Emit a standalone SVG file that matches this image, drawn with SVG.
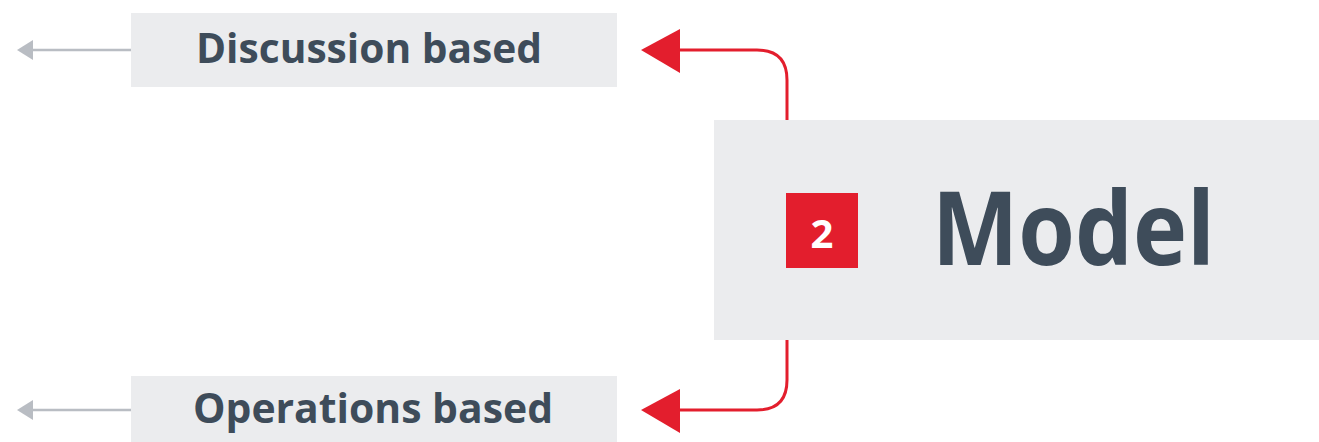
<svg xmlns="http://www.w3.org/2000/svg" width="1319" height="442" viewBox="0 0 1319 442">
<style>
.box{fill:#ebecee}
.lbl{font-family:"Open Sans","Liberation Sans",sans-serif;font-weight:700;fill:#3e4c5a}
.red{stroke:#e31e2d;stroke-width:3;fill:none}
.gray{stroke:#b9bdc3;stroke-width:2.5;fill:none}
.gh{fill:#b9bdc3}
.rh{fill:#e31e2d}
</style>
<rect width="1319" height="442" fill="#ffffff"/>
<g id="connectors">
<path class="gray" d="M131 50 H30"/>
<path class="gh" d="M17 50 L33 40 L33 60 Z"/>
<path class="gray" d="M131 410 H30"/>
<path class="gh" d="M17 410 L33 400 L33 420 Z"/>
<path class="red" d="M787 120 V80 Q787 50 757 50 H675"/>
<path class="rh" d="M641 50 L680 29 L680 73 Z"/>
<path class="red" d="M787 340 V380 Q787 410 757 410 H675"/>
<path class="rh" d="M641 410 L680 389 L680 433 Z"/>
</g>
<g id="discussion">
<rect class="box" x="131" y="13" width="486" height="74"/>
<text class="lbl" x="369" y="63" font-size="42" text-anchor="middle" textLength="346" lengthAdjust="spacingAndGlyphs">Discussion based</text>
</g>
<g id="operations">
<rect class="box" x="131" y="376" width="486" height="66"/>
<text class="lbl" x="373" y="423" font-size="42" text-anchor="middle" textLength="360" lengthAdjust="spacingAndGlyphs">Operations based</text>
</g>
<g id="model">
<rect class="box" x="714" y="120" width="605" height="220"/>
<rect x="786" y="193" width="72" height="75" fill="#e31e2d"/>
<text x="822" y="248" font-family="'Open Sans','Liberation Sans',sans-serif" font-weight="700" font-size="40" fill="#ffffff" text-anchor="middle">2</text>
<text class="lbl" x="932" y="265" font-size="102" textLength="283" lengthAdjust="spacingAndGlyphs">Model</text>
</g>
</svg>
